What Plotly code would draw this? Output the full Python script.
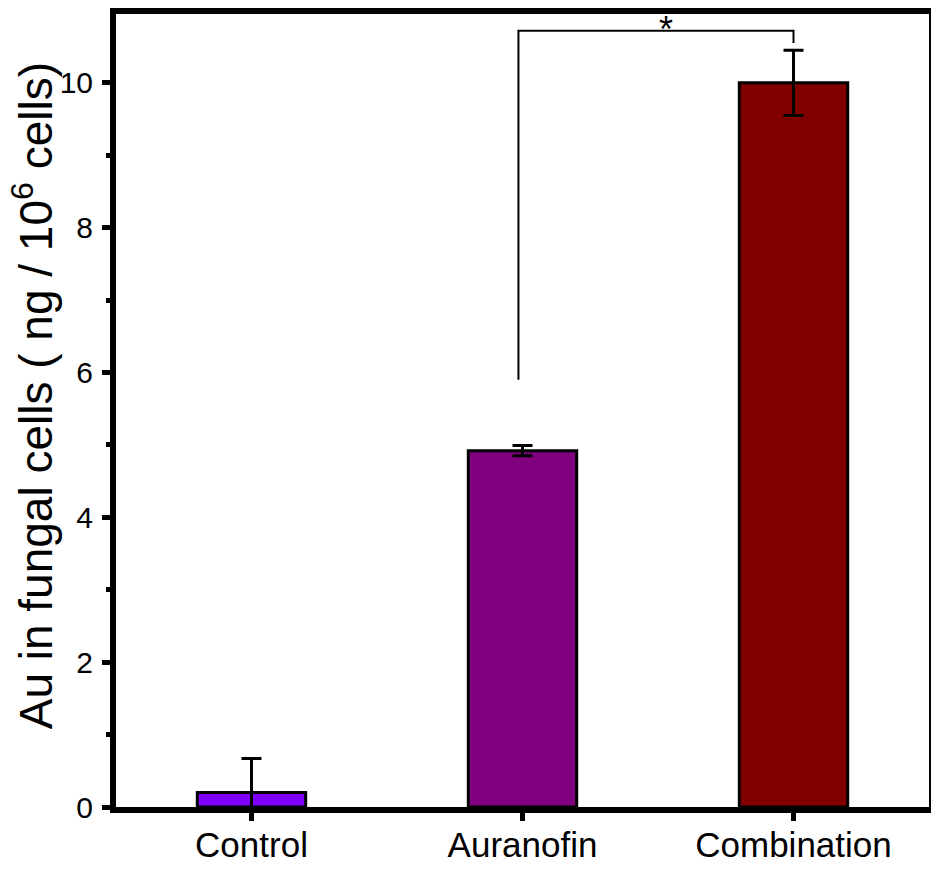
import plotly.graph_objects as go

categories = ["Control", "Auranofin", "Combination"]
values = [0.2, 4.92, 10.0]
errors = [0.47, 0.07, 0.45]
colors = ["#8000FF", "#800080", "#800000"]

y_ticks = [0, 2, 4, 6, 8, 10]
y_title = "Au in fungal cells ( ng / 10<sup>6</sup> cells)"

# significance bracket (Auranofin vs Combination)
bracket_x = [0.985, 0.985, 2.0, 2.0]
bracket_y = [5.9, 10.72, 10.72, 10.55]
star_x = 1.53
star_y = 10.72
star_text = "*"

FONT = "Arial, Liberation Sans, sans-serif"

xpos = list(range(len(categories)))

fig = go.Figure()
fig.add_trace(go.Bar(
    x=xpos, y=values, width=0.4,
    marker=dict(color=colors, line=dict(color="black", width=3)),
    error_y=dict(type="data", array=errors, visible=True,
                 color="black", thickness=3, width=10),
    showlegend=False,
))
fig.add_trace(go.Scatter(
    x=bracket_x, y=bracket_y, mode="lines",
    line=dict(color="black", width=2), showlegend=False, hoverinfo="skip",
))
fig.add_annotation(x=star_x, y=star_y, text=star_text, showarrow=False,
                   yanchor="middle", yshift=1,
                   font=dict(family=FONT, size=36, color="black"))
# y-axis title as rotated text
fig.add_annotation(xref="paper", yref="paper", x=-0.102, y=0.518,
                   text=y_title, textangle=-90, showarrow=False,
                   xanchor="center", yanchor="middle",
                   font=dict(family=FONT, size=46, color="black"))

# page body has an 8px default margin, so size the figure to fit the window
fig.update_layout(
    width=931, height=864,
    margin=dict(l=108, r=10, t=6, b=65),
    plot_bgcolor="white", paper_bgcolor="white",
    font=dict(family=FONT, color="black"),
    bargap=0.6,
)
fig.update_xaxes(
    range=[-0.5, 2.5], tickvals=xpos, ticktext=categories,
    showline=True, linewidth=6, linecolor="black", mirror=True,
    ticks="outside", ticklen=8, tickwidth=5, tickcolor="black",
    tickfont=dict(size=35, family=FONT), showgrid=False, zeroline=False,
    automargin=False, ticklabelstandoff=-6,
)
fig.update_yaxes(
    range=[0, 10.95], tickvals=y_ticks,
    showline=True, linewidth=6, linecolor="black", mirror=True,
    ticks="outside", ticklen=8, tickwidth=5, tickcolor="black",
    tickfont=dict(size=30, family=FONT), ticklabelstandoff=3,
    minor=dict(dtick=1, ticks="outside", ticklen=4, tickwidth=5, tickcolor="black", showgrid=False),
    showgrid=False, zeroline=False, automargin=False,
)

fig.write_html("out.html")
